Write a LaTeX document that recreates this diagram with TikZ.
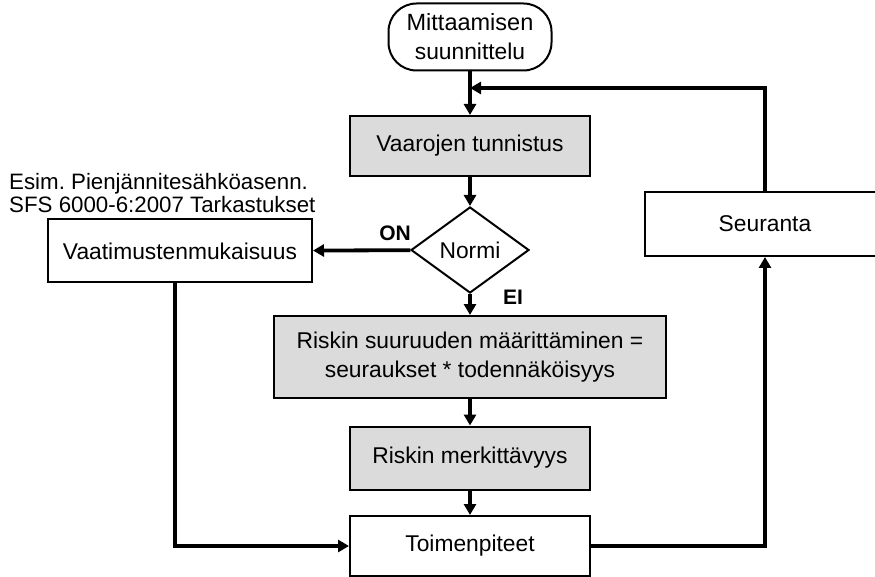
\documentclass[tikz,border=0pt]{standalone}
\usepackage{fontspec}
\setmainfont{Liberation Sans}
\usetikzlibrary{shapes.geometric,arrows.meta}
\begin{document}
\frenchspacing
\begin{tikzpicture}[x=1pt,y=-1pt,
  every node/.style={font=\fontsize{22.8}{29}\selectfont, inner sep=0pt},
  stepbox/.style={draw=black, line width=2pt, rectangle},
  graybox/.style={stepbox, fill=gray!28},
  arr/.style={line width=3.8pt, -{Triangle[length=11pt,width=12pt]}},
  lbl/.style={font=\fontsize{21}{25}\selectfont\bfseries}]
\useasboundingbox (0,0) rectangle (875,577);
\node[stepbox, rounded corners=28pt, minimum width=163pt, minimum height=67pt, align=center] (term) at (470,37) {\fontsize{23.5}{30}\selectfont Mittaamisen\\suunnittelu};
\node[graybox, minimum width=240pt, minimum height=60pt] (vaar) at (470,146) {Vaarojen tunnistus};
\node[draw=black, line width=2pt, diamond, minimum width=118pt, minimum height=86pt] (norm) at (470,250) {Normi};
\node[stepbox, minimum width=264pt, minimum height=63pt] (vaat) at (180,251) {Vaatimustenmukaisuus};
\node[stepbox, minimum width=240pt, minimum height=64pt] (seur) at (765,224) {Seuranta};
\node[graybox, minimum width=392pt, minimum height=82pt, align=center] (risk) at (470,357) {Riskin suuruuden määrittäminen =\\seuraukset * todennäköisyys};
\node[graybox, minimum width=240pt, minimum height=63pt] (merk) at (470,458) {Riskin merkittävyys};
\node[stepbox, minimum width=240pt, minimum height=60pt] (toim) at (470,546) {Toimenpiteet};
\node[anchor=west, align=left, font=\fontsize{22.3}{23.5}\selectfont] (note) at (9,193) {Esim. Pienjännitesähköasenn.\\SFS 6000-6:2007 Tarkastukset};
\node[lbl] (on) at (395,233) {ON};
\node[lbl] (ei) at (513,297) {EI};
\coordinate (fb) at (470,88);
\draw[arr] (term) -- (vaar);
\draw[arr] (vaar) -- (norm);
\draw[arr] (norm) -- (vaat);
\draw[arr] (norm) -- (risk);
\draw[arr] (risk) -- (merk);
\draw[arr] (merk) -- (toim);
\draw[arr] ([xshift=-5pt]vaat.south) |- (toim.west);
\draw[arr] (toim.east) -| (seur.south);
\draw[arr] (seur.north) |- (fb);
\end{tikzpicture}
\end{document}
